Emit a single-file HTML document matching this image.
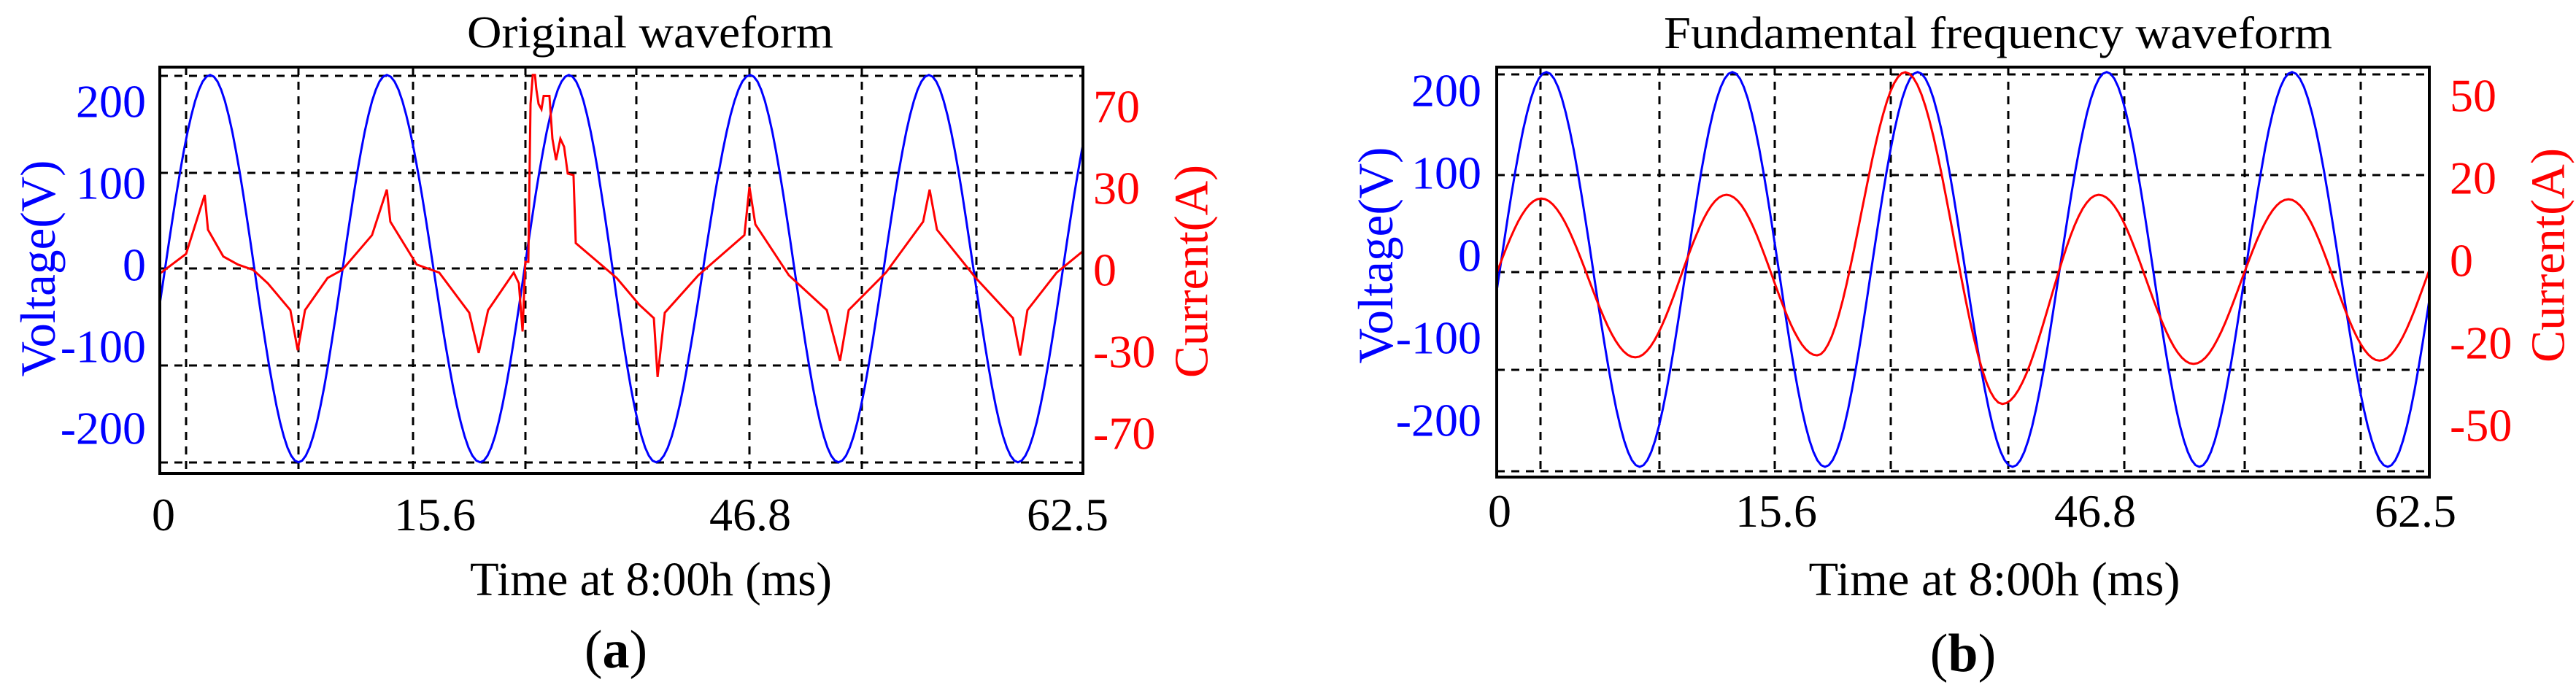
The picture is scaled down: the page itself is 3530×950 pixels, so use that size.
<!DOCTYPE html>
<html>
<head>
<meta charset="utf-8">
<style>
html,body{margin:0;padding:0;background:#fff;}
svg{display:block;}
text{font-family:"Liberation Serif","Times New Roman",serif;}
</style>
</head>
<body>
<svg id="fig" width="3530" height="950" viewBox="0 0 3530 950" xmlns="http://www.w3.org/2000/svg">
  <rect x="0" y="0" width="3530" height="950" fill="#fff"/>
  <defs>
    <clipPath id="clipA"><rect x="219" y="92" width="1265" height="557"/></clipPath>
    <clipPath id="clipB"><rect x="2051" y="92" width="1278" height="562"/></clipPath>
  </defs>
  <g id="panelA"></g>
  <g id="panelB"></g>

  <!-- static text -->
  <text x="891" y="65" font-size="62" text-anchor="middle" textLength="502" lengthAdjust="spacingAndGlyphs">Original waveform</text>
  <text x="2738" y="66" font-size="62" text-anchor="middle" textLength="916" lengthAdjust="spacingAndGlyphs">Fundamental frequency waveform</text>

  <text x="892" y="816" font-size="66" text-anchor="middle" textLength="496" lengthAdjust="spacingAndGlyphs">Time at 8:00h (ms)</text>
  <text x="2733" y="816" font-size="66" text-anchor="middle" textLength="509" lengthAdjust="spacingAndGlyphs">Time at 8:00h (ms)</text>

  <text x="224" y="727" font-size="64" text-anchor="middle">0</text>
  <text x="596" y="727" font-size="64" text-anchor="middle">15.6</text>
  <text x="1028" y="727" font-size="64" text-anchor="middle">46.8</text>
  <text x="1463" y="727" font-size="64" text-anchor="middle">62.5</text>

  <text x="2055" y="722" font-size="64" text-anchor="middle">0</text>
  <text x="2434" y="722" font-size="64" text-anchor="middle">15.6</text>
  <text x="2871" y="722" font-size="64" text-anchor="middle">46.8</text>
  <text x="3310" y="722" font-size="64" text-anchor="middle">62.5</text>

  <text transform="translate(52,368) rotate(-90)" font-size="68" fill="#0000ff" text-anchor="middle" dominant-baseline="central" textLength="297" lengthAdjust="spacingAndGlyphs">Voltage(V)</text>
  <text transform="translate(1633,372) rotate(-90)" font-size="66" fill="#ff0000" text-anchor="middle" dominant-baseline="central" textLength="292" lengthAdjust="spacingAndGlyphs">Current(A)</text>
  <text transform="translate(1885,350) rotate(-90)" font-size="68" fill="#0000ff" text-anchor="middle" dominant-baseline="central" textLength="297" lengthAdjust="spacingAndGlyphs">Voltage(V)</text>
  <text transform="translate(3492,350) rotate(-90)" font-size="66" fill="#ff0000" text-anchor="middle" dominant-baseline="central" textLength="294" lengthAdjust="spacingAndGlyphs">Current(A)</text>

  <text x="844" y="915" font-size="74" text-anchor="middle">(<tspan font-weight="bold">a</tspan>)</text>
  <text x="2690" y="920" font-size="74" text-anchor="middle">(<tspan font-weight="bold">b</tspan>)</text>
</svg>

<script>
// ---------------- Panel (a) data ----------------
const voltTicksA = [200, 100, 0, -100, -200];
const currTickLabelsA = ['70', '30', '0', '-30', '-70'];
// voltage extrema (ms, V)
const voltExtTimeA = [-2.7, 3.41, 9.39, 15.37, 21.69, 27.7, 33.6, 39.97, 45.95, 52.07, 58.1, 64.2];
const voltExtValA  = [-239, 235, -239, 235, -239, 235, -239, 235, -239, 235, -239, 235];
// current waveform samples (ms, A)
const currTimeA = [0, 1.78, 3.04, 3.26, 4.30, 5.29, 6.32, 7.31, 8.84, 9.34, 9.83, 11.36, 12.35, 14.37, 15.37, 15.61, 17.39, 18.92, 20.95, 21.59, 22.23, 23.96, 24.31, 24.56, 24.75, 24.95, 25.10, 25.25, 25.40, 25.49, 25.64, 25.84, 25.99, 26.38, 26.58, 26.83, 27.12, 27.37, 27.62, 28.01, 28.16, 30.93, 32.46, 33.45, 33.70, 34.19, 36.46, 39.58, 39.92, 40.32, 42.59, 45.16, 46.05, 46.64, 49.16, 51.68, 52.12, 52.62, 55.24, 57.76, 58.25, 58.74, 60.72, 62.5];
const currValA  = [-1.4, 6, 28, 15, 5, 2, 0, -5, -15, -30, -15, -3, 0, 13, 30, 18, 2, -1, -16, -31, -15, -1, -5, -23, 3, 3, 62, 72.8, 72.8, 67.6, 62, 60, 65, 65, 49, 41, 49, 46, 36, 35.4, 10, -3, -13, -18, -40, -16, -2, 13, 31, 17, -2, -15, -34, -15, -1, 18, 30, 15, -3, -18, -32, -15, -1, 7];

// ---------------- Panel (b) data ----------------
const voltTicksB = [200, 100, 0, -100, -200];
const currTickLabelsB = ['50', '20', '0', '-20', '-50'];
const voltExtTimeB = [-2.9, 3.33, 9.58, 15.79, 22.0, 28.21, 34.57, 40.88, 47.09, 53.3, 59.71, 65.9];
const voltExtValB  = [-254, 225, -254, 225, -254, 225, -254, 225, -254, 225, -254, 225];
const currExtTimeB = [-3.2, 2.98, 9.29, 15.4, 21.47, 27.38, 33.89, 40.34, 46.7, 53.06, 59.17, 65.4];
const currExtValB  = [-23, 15.7, -23.2, 16.6, -22.7, 46.6, -34.6, 16.6, -24.8, 15.5, -24, 16];

// ---------------- axes ----------------
const A = {x0:219, x1:1484, y0:92, y1:649, tmax:62.5, v0:366, vk:1.12, i0:370, ik:3.67,
  hgrid:[104,237,368,501,634], vgrid:[255,409,566,720,872,1027,1181,1338], vLabX:200, iLabX:1498, clip:'clipA'};
const B = {x0:2051, x1:3329, y0:92, y1:654, tmax:62.5, v0:353, vk:1.13, i0:360, ik:5.6,
  hgrid:[102,240,373,507,646], vgrid:[2111,2274,2432,2591,2752,2911,3076,3235], vLabX:2030, iLabX:3357, clip:'clipB'};

const NS = 'http://www.w3.org/2000/svg';
function xS(ax, t){ return ax.x0 + t * (ax.x1 - ax.x0) / ax.tmax; }
function yV(ax, v){ return ax.v0 - v * ax.vk; }
function yI(ax, i){ return ax.i0 - i * ax.ik; }
function mk(tag, attrs){ const e = document.createElementNS(NS, tag); for (const k in attrs) e.setAttribute(k, attrs[k]); return e; }

function cosPath(ax, ts, vs, yfn){
  let d = '';
  for (let k = 0; k < ts.length - 1; k++){
    const t0 = ts[k], t1 = ts[k+1], a = vs[k], b = vs[k+1];
    const n = 24;
    for (let j = (k === 0 ? 0 : 1); j <= n; j++){
      const f = j / n;
      const w = (1 - Math.cos(Math.PI * f)) / 2;
      const t = t0 + (t1 - t0) * f;
      const v = a + (b - a) * w;
      d += (d ? 'L' : 'M') + xS(ax, t).toFixed(1) + ' ' + yfn(ax, v).toFixed(1);
    }
  }
  return d;
}
function linPath(ax, ts, vs, yfn){
  let d = '';
  for (let k = 0; k < ts.length; k++) d += (k ? 'L' : 'M') + xS(ax, ts[k]).toFixed(1) + ' ' + yfn(ax, vs[k]).toFixed(1);
  return d;
}

function drawPanel(gid, ax, vTicks, iLabels, tag){
  const g = document.getElementById(gid);
  // grid
  ax.hgrid.forEach((y, k) => {
    const l = mk('line', {x1:ax.x0, x2:ax.x1, y1:y, y2:y, stroke:'#000', 'stroke-width':3, 'stroke-dasharray':'11 9'});
    
    
    g.appendChild(l);
  });
  ax.vgrid.forEach((x, k) => {
    const l = mk('line', {x1:x, x2:x, y1:ax.y0, y2:ax.y1, stroke:'#000', 'stroke-width':3, 'stroke-dasharray':'11 9'});
    
    
    g.appendChild(l);
  });
  // left voltage tick labels
  vTicks.forEach(v => {
    const t = mk('text', {x:ax.vLabX, y:yV(ax, v) - 3, 'font-size':64, fill:'#0000ff', 'text-anchor':'end', 'dominant-baseline':'central'});
    t.textContent = String(v);
    
    
    g.appendChild(t);
  });
  // right current tick labels (aligned with voltage ticks)
  iLabels.forEach((s, k) => {
    const t = mk('text', {x:ax.iLabX, y:yV(ax, vTicks[k]) + 4, 'font-size':64, fill:'#ff0000', 'text-anchor':'start', 'dominant-baseline':'central'});
    t.textContent = s;
    
    
    g.appendChild(t);
  });
}

drawPanel('panelA', A, voltTicksA, currTickLabelsA, 'a');
drawPanel('panelB', B, voltTicksB, currTickLabelsB, 'b');

const gA = document.getElementById('panelA');
const gB = document.getElementById('panelB');

const vA = mk('path', {d:cosPath(A, voltExtTimeA, voltExtValA, yV), fill:'none', stroke:'#0000ff', 'stroke-width':3, 'clip-path':'url(#clipA)'});


gA.appendChild(vA);
const iA = mk('path', {d:linPath(A, currTimeA, currValA, yI), fill:'none', stroke:'#ff0000', 'stroke-width':3, 'clip-path':'url(#clipA)'});


gA.appendChild(iA);

const vB = mk('path', {d:cosPath(B, voltExtTimeB, voltExtValB, yV), fill:'none', stroke:'#0000ff', 'stroke-width':3, 'clip-path':'url(#clipB)'});


gB.appendChild(vB);
const iB = mk('path', {d:cosPath(B, currExtTimeB, currExtValB, yI), fill:'none', stroke:'#ff0000', 'stroke-width':3, 'clip-path':'url(#clipB)'});


gB.appendChild(iB);

// plot frames
[[gA, A, 'a'], [gB, B, 'b']].forEach(([g, ax, tag]) => {
  const r = mk('rect', {x:ax.x0, y:ax.y0, width:ax.x1 - ax.x0, height:ax.y1 - ax.y0, fill:'none', stroke:'#000', 'stroke-width':4});
  
  
  g.appendChild(r);
});
</script>
</body>
</html>
